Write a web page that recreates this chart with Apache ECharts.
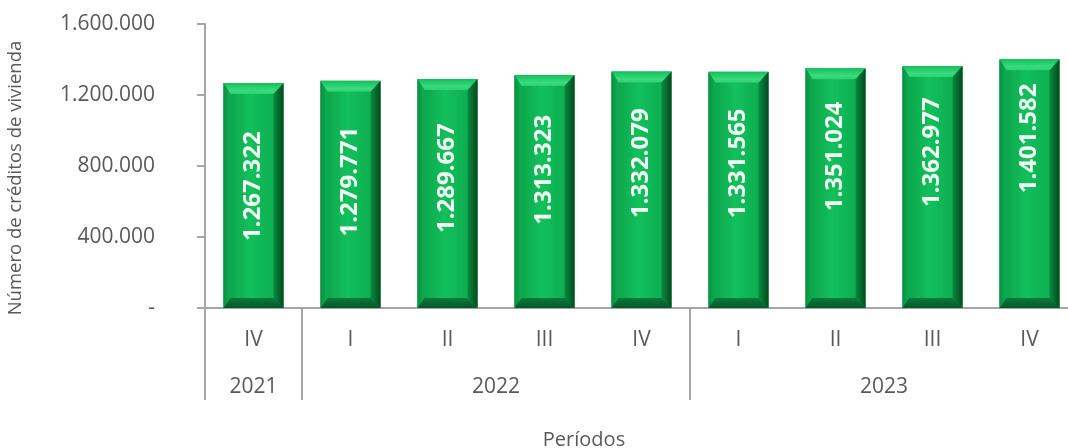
<!DOCTYPE html>
<html><head><meta charset="utf-8">
<script src="https://cdn.jsdelivr.net/npm/echarts@6/dist/echarts.min.js"></script>
<style>html,body{margin:0;padding:0;background:#fff;overflow:hidden}#c{width:1078px;height:448px}</style>
</head><body><div id="c"></div>
<script>
const quarters = ['IV', 'I', 'II', 'III', 'IV', 'I', 'II', 'III', 'IV'];
const years = ['2021', '2022', '2022', '2022', '2022', '2023', '2023', '2023', '2023'];
const values = [1267322, 1279771, 1289667, 1313323, 1332079, 1331565, 1351024, 1362977, 1401582];
const yMin = 0, yMax = 1600000, yStep = 400000;
const yTitle = 'Número de créditos de vivienda';
const xTitle = 'Períodos';

const FONT = '"Open Sans", "Noto Sans", sans-serif';
const GREY = '#595959';
const LINE = '#a6a6a6';
const fmt = v => String(v).replace(/\B(?=(\d{3})+(?!\d))/g, '.');

// year groups derived from the years array
const groups = [];
years.forEach((y, i) => {
  const g = groups[groups.length - 1];
  if (g && g.name === y) g.to = i; else groups.push({ name: y, from: i, to: i });
});

const lin = (x, y, x2, y2, stops) => ({ type: 'linear', x, y, x2, y2,
  colorStops: stops.map(([o, c]) => ({ offset: o, color: c })) });

function renderBar(params, api) {
  const i = api.value(0), v = api.value(1);
  const top = api.coord([i, v]);
  const base = api.coord([i, 0]);
  const gridTop = api.coord([i, yMax])[1];
  const band = api.size([1, 0])[0];
  const w = band * 0.62;
  const x0 = top[0] - w / 2, x1 = top[0] + w / 2, y0 = top[1], y1 = base[1];
  const bt = 11, bl = 7, br = 10, bb = 10;
  const cy = y0 + (y0 - gridTop) + 44;
  return { type: 'group', children: [
    { type: 'rect', shape: { x: x0, y: y0, width: w, height: y1 - y0 },
      style: { fill: lin(0, 0, 1, 0, [[0, '#0b9e47'], [0.45, '#12c05c'], [1, '#0aa64b']]) } },
    { type: 'polygon', shape: { points: [[x0, y0], [x1, y0], [x1 - br, y0 + bt], [x0 + bl, y0 + bt]] },
      style: { fill: lin(0, 0, 0, 1, [[0, '#12c05b'], [0.7, '#3bdb7e'], [1, '#2ccf70']]) } },
    { type: 'polygon', shape: { points: [[x0, y0], [x0 + bl, y0 + bt], [x0 + bl, y1 - bb], [x0, y1]] },
      style: { fill: lin(0, 0, 1, 0, [[0, '#098f40'], [1, '#0daf52']]) } },
    { type: 'polygon', shape: { points: [[x1, y0], [x1, y1], [x1 - br, y1 - bb], [x1 - br, y0 + bt]] },
      style: { fill: lin(0, 0, 1, 0, [[0, '#088a3e'], [1, '#034a1d']]) } },
    { type: 'polygon', shape: { points: [[x0, y1], [x0 + bl, y1 - bb], [x1 - br, y1 - bb], [x1, y1]] },
      style: { fill: lin(0, 0, 0, 1, [[0, '#0a7a3a'], [1, '#06572a']]) } },
    { type: 'text', x: top[0], y: cy, rotation: Math.PI / 2,
      style: { text: fmt(v), fill: '#f2fff4', font: 'bold 24px ' + FONT, align: 'center', verticalAlign: 'middle' } }
  ] };
}

function renderYear(params, api) {
  const g = groups[api.value(2)];
  const a = api.coord([g.from, 0]), b = api.coord([g.to, 0]);
  const band = api.size([1, 0])[0];
  const xl = a[0] - band / 2, xr = b[0] + band / 2, yb = a[1];
  return { type: 'group', children: [
    { type: 'line', shape: { x1: xl, y1: yb, x2: xl, y2: yb + 92 }, style: { stroke: LINE, lineWidth: 2 } },
    { type: 'line', shape: { x1: xr, y1: yb, x2: xr, y2: yb + 92 }, style: { stroke: LINE, lineWidth: 2 } },
    { type: 'text', x: (xl + xr) / 2, y: yb + 79,
      style: { text: g.name, fill: GREY, font: '21px ' + FONT, align: 'center', verticalAlign: 'middle' } }
  ] };
}

const chart = echarts.init(document.getElementById('c'));
chart.setOption({
  animation: false,
  backgroundColor: '#fff',
  grid: { left: 205, top: 24, width: 873, height: 284 },
  xAxis: {
    type: 'category', data: quarters,
    axisLine: { lineStyle: { color: LINE, width: 2 } },
    axisTick: { show: false },
    axisLabel: { color: GREY, fontSize: 21, fontFamily: FONT, margin: 22 },
    splitLine: { show: false }
  },
  yAxis: {
    type: 'value', min: yMin, max: yMax, interval: yStep,
    axisLine: { show: true, lineStyle: { color: LINE, width: 2 } },
    axisTick: { show: true, length: 8, lineStyle: { color: LINE, width: 2 } },
    axisLabel: { color: GREY, fontSize: 21, fontFamily: FONT, margin: 50,
      formatter: v => v === 0 ? '-' : fmt(v) },
    splitLine: { show: false }
  },
  graphic: [
    { type: 'text', x: 16, y: 178, rotation: Math.PI / 2,
      style: { text: yTitle, fill: GREY, font: '18.5px ' + FONT, align: 'center', verticalAlign: 'middle' } },
    { type: 'text', x: 584, y: 440,
      style: { text: xTitle, fill: GREY, font: '20px ' + FONT, align: 'center', verticalAlign: 'middle' } }
  ],
  series: [
    { type: 'custom', renderItem: renderBar, data: values.map((v, i) => [i, v]), encode: { x: 0, y: 1 }, z: 2 },
    { type: 'custom', renderItem: renderYear, data: groups.map((g, k) => [g.from, g.to, k]),
      encode: { x: [0, 1], y: 2 }, clip: false, silent: true, z: 1 }
  ]
});
</script>
</body></html>
